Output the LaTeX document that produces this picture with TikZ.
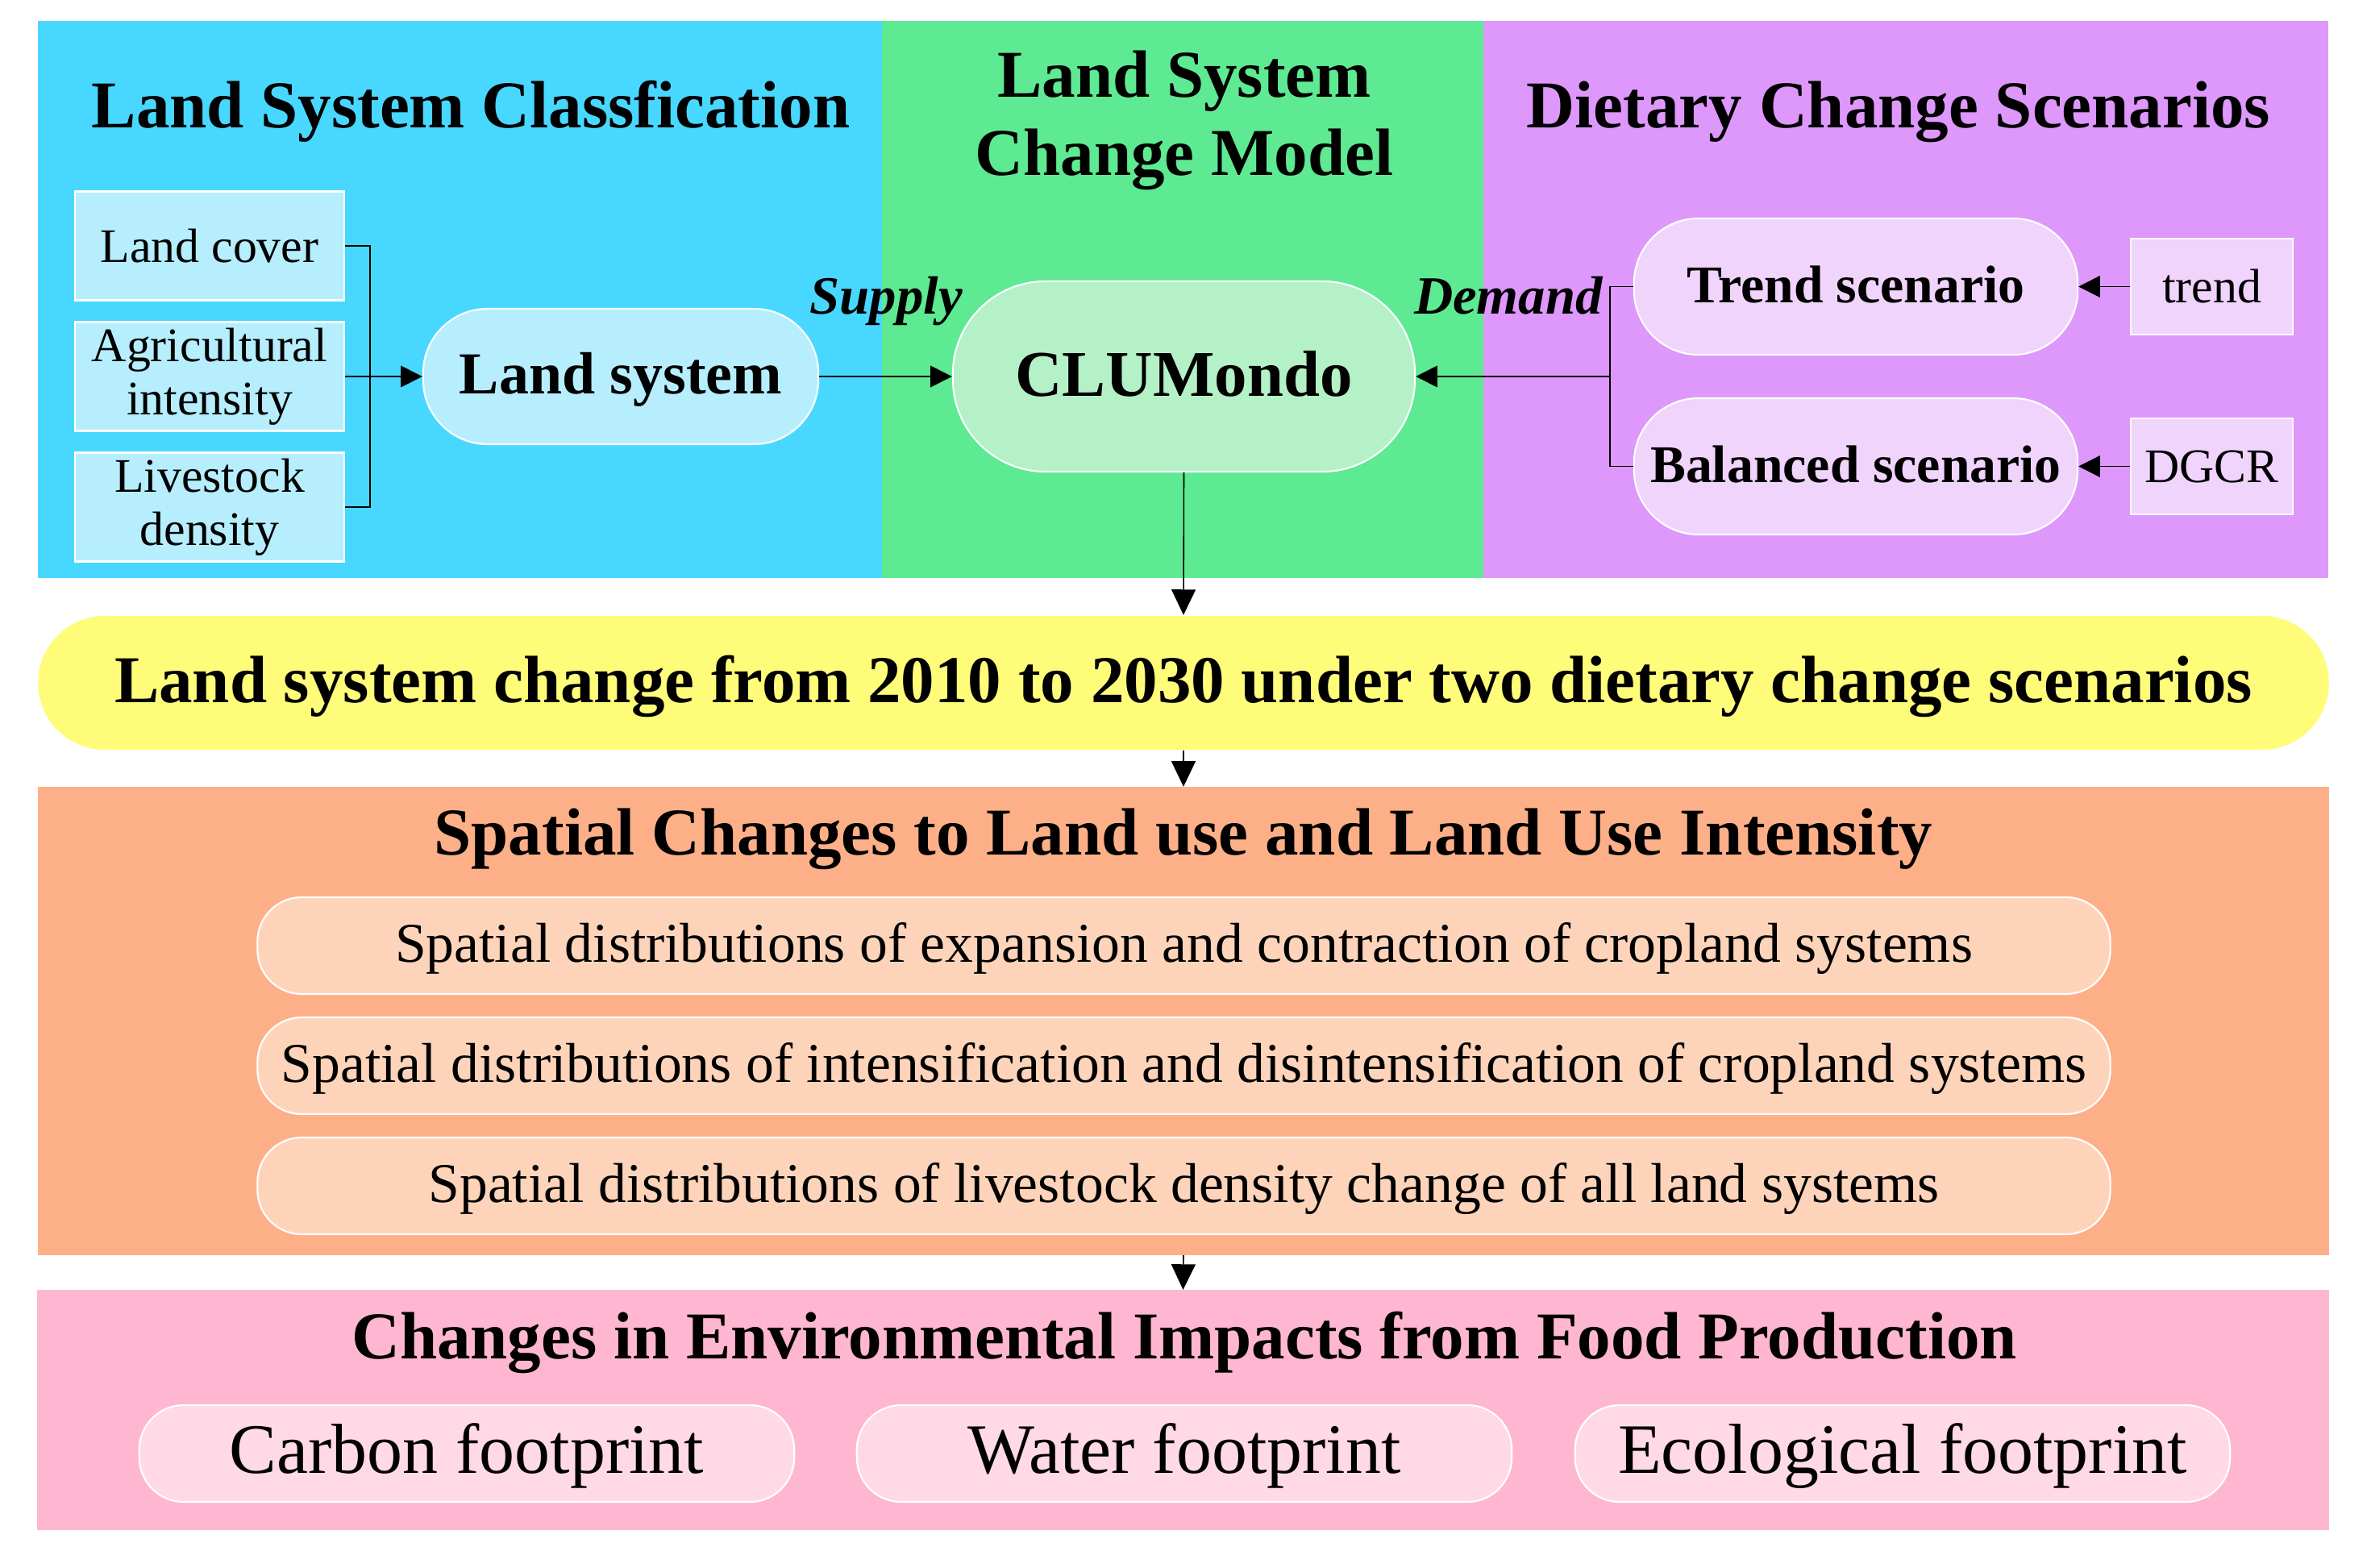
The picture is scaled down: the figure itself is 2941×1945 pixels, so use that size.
\documentclass[tikz,border=0pt]{standalone}
\usepackage{fontspec}
\setmainfont{Liberation Serif}
\usetikzlibrary{arrows.meta}
\definecolor{bluebg}{RGB}{72,216,255}
\definecolor{bluelt}{RGB}{182,238,253}
\definecolor{greenbg}{RGB}{94,234,146}
\definecolor{greenlt}{RGB}{180,241,198}
\definecolor{purplebg}{RGB}{222,152,252}
\definecolor{purplelt}{RGB}{240,212,252}
\definecolor{yellowbg}{RGB}{255,252,122}
\definecolor{orangebg}{RGB}{253,176,136}
\definecolor{orangelt}{RGB}{253,212,186}
\definecolor{pinkbg}{RGB}{255,182,208}
\definecolor{pinklt}{RGB}{255,218,230}
\newcommand\myfs[2]{\fontsize{#1}{#2}\selectfont}
\begin{document}
\begin{tikzpicture}[x=0.01cm,y=-0.01cm,
  panel/.style={rectangle, inner sep=0pt, outer sep=0pt, draw=none},
  ttl/.style={inner sep=0pt, font=\myfs{23.6pt}{27.6pt}\bfseries},
  sbox/.style={rectangle, draw=white, line width=0.6pt, fill=bluelt, align=center, inner sep=0pt,
    minimum width=3.34cm, minimum height=1.35cm, font=\myfs{17pt}{18.8pt}},
  pbox/.style={rectangle, draw=white, line width=0.6pt, fill=purplelt, inner sep=0pt,
    minimum width=2.01cm, minimum height=1.19cm, font=\myfs{17pt}{18.8pt}},
  rnode/.style={rectangle, draw=white, line width=0.6pt, inner sep=0pt},
  lbl/.style={inner sep=0pt, font=\myfs{19pt}{22pt}\bfseries\itshape},
  con/.style={line width=0.45pt, black},
  arr/.style={con, -{Triangle[length=7.6pt,width=7.6pt]}},
  darr/.style={con, -{Triangle[length=9pt,width=8.5pt]}}]
\useasboundingbox[fill=white] (0,0) rectangle (2941,1945);

% top panels
\node[panel, fill=bluebg, minimum width=10.47cm, minimum height=6.91cm] (pblue) at (570.5,371.5) {};
\node[panel, fill=greenbg, minimum width=7.46cm, minimum height=6.91cm] (pgreen) at (1467,371.5) {};
\node[panel, fill=purplebg, minimum width=10.48cm, minimum height=6.91cm] (ppurple) at (2364,371.5) {};

\node[ttl, anchor=base] (tblue) at (584,158) {Land System Classfication};
\node[ttl, align=center] (tgreen) at (1469,149) {Land System\\Change Model};
\node[ttl, anchor=base] (tpurple) at (2355,158) {Dietary Change Scenarios};

% left part
\node[sbox] (lc) at (260,305) {Land cover};
\node[sbox] (ai) at (260,467) {Agricultural\\intensity};
\node[sbox] (ld) at (260,629) {Livestock\\density};
\node[rnode, fill=bluelt, minimum width=4.9cm, minimum height=1.68cm, rounded corners=0.8cm,
  text height=15pt, text depth=3pt,
  font=\myfs{21pt}{24pt}\bfseries] (ls) at (770,467) {Land system};

\draw[con] (lc.east) -- ++(31,0) |- (ld.east);
\draw[arr] (ai.east) -- (ls.west);

% middle
\node[rnode, fill=greenlt, minimum width=5.73cm, minimum height=2.36cm, rounded corners=1.15cm,
  text height=15.6pt, text depth=1.9pt,
  font=\myfs{23pt}{26pt}\bfseries] (clu) at (1468.5,467) {CLUMondo};
\draw[arr] (ls.east) -- (clu.west);
\node[lbl, anchor=base] (sup) at (1099,389) {Supply};

% right part
\tikzset{sbn/.style={rnode, fill=purplelt, minimum width=5.5cm, minimum height=1.69cm, rounded corners=0.8cm,
  text height=13.5pt, text depth=2.4pt, font=\myfs{18.7pt}{22pt}\bfseries}}
\node[sbn] (trs) at (2302,355.5) {Trend scenario};
\node[sbn] (bas) at (2302,578.5) {Balanced scenario};
\node[pbox] (trb) at (2743.5,355.5) {trend};
\node[pbox] (dgb) at (2743.5,578.5) {DGCR};
\draw[arr] (trb.west) -- (trs.east);
\draw[arr] (dgb.west) -- (bas.east);
\draw[con] (trs.west) -- ++(-29,0) |- (bas.west);
\coordinate (jr) at (1998,467);
\draw[arr] (jr) -- (clu.east);
\node[lbl, anchor=base] (dem) at (1871,389) {Demand};

% yellow
\node[rnode, draw=none, fill=yellowbg, minimum width=28.4cm, minimum height=1.66cm, rounded corners=0.83cm,
  text height=16pt, text depth=2.34pt,
  font=\myfs{23.6pt}{27pt}\bfseries] (yel) at (1468,847)
  {Land system change from 2010 to 2030 under two dietary change scenarios};
\draw[darr] (clu.south) -- (yel.north);

% orange
\node[panel, fill=orangebg, minimum width=28.4cm, minimum height=5.81cm] (por) at (1468,1266.5) {};
\draw[darr] (yel.south) -- (por.north);
\node[ttl, anchor=base] (tor) at (1468,1060) {Spatial Changes to Land use and Land Use Intensity};
\tikzset{obox/.style={rnode, fill=orangelt, minimum width=22.97cm, minimum height=1.2cm, rounded corners=0.55cm,
  text height=14.5pt, text depth=3.1pt, font=\myfs{19.8pt}{23pt}}}
\node[obox] (o1) at (1468.5,1173) {Spatial distributions of expansion and contraction of cropland systems};
\node[obox] (o2) at (1468.5,1322) {Spatial distributions of intensification and disintensification of cropland systems};
\node[obox] (o3) at (1468.5,1471) {Spatial distributions of livestock density change of all land systems};

% pink
\node[panel, fill=pinkbg, minimum width=28.41cm, minimum height=2.98cm] (ppk) at (1467.5,1749) {};
\draw[darr] (por.south) -- (ppk.north);
\node[ttl, anchor=base] (tpk) at (1469,1685) {Changes in Environmental Impacts from Food Production};
\tikzset{fbox/.style={rnode, fill=pinklt, minimum width=8.12cm, minimum height=1.2cm, rounded corners=0.55cm,
  text height=17pt, text depth=3.34pt, font=\myfs{25pt}{28pt}}}
\node[fbox] (f1) at (579,1803) {Carbon footprint};
\node[fbox] (f2) at (1469,1803) {Water footprint};
\node[fbox] (f3) at (2360,1803) {Ecological footprint};
\end{tikzpicture}
\end{document}
